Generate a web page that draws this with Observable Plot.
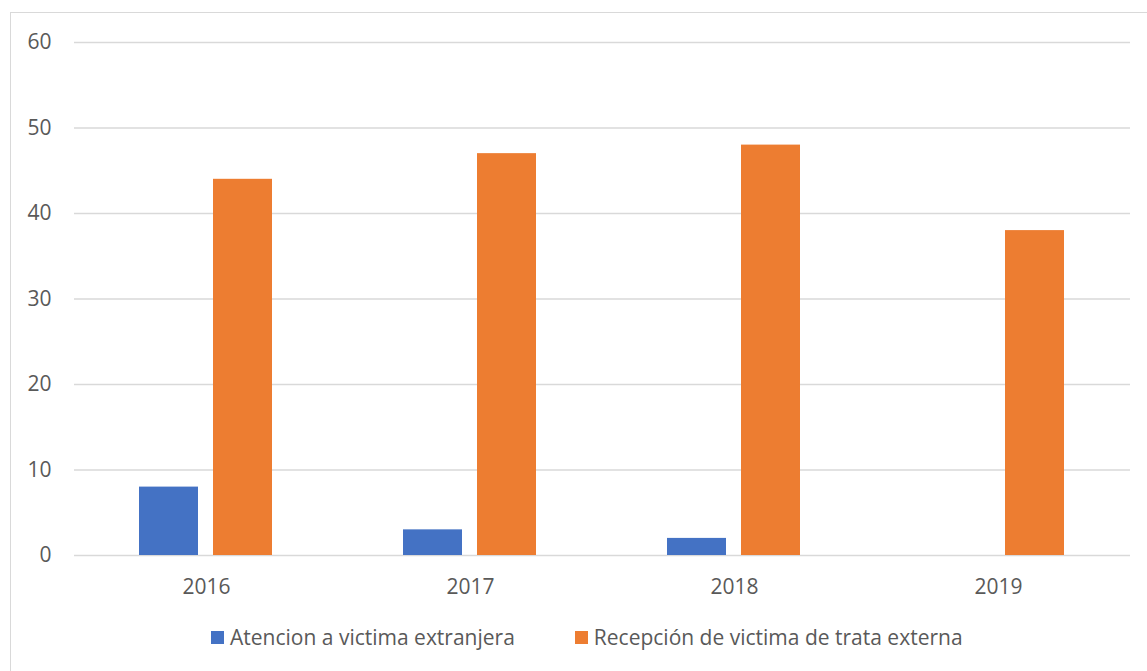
<!DOCTYPE html>
<html><head><meta charset="utf-8">
<script src="https://cdn.jsdelivr.net/npm/d3@7"></script>
<script src="https://cdn.jsdelivr.net/npm/@observablehq/plot@0.6"></script>
<style>
body{margin:0;background:#fff;font-family:"Open Sans",sans-serif;width:1147px;height:671px;overflow:hidden;position:relative}
#frame{position:absolute;left:10px;top:12px;width:1150px;height:680px;border:1.5px solid #d9d9d9;box-sizing:border-box}
#chart{position:absolute;left:0;top:0}
#legend{position:absolute;top:623px;left:211px;display:flex;align-items:center;font-size:21px;color:#595959;white-space:nowrap}
.item{display:flex;align-items:center}
.sw{width:13px;height:13px;margin-right:6px;display:inline-block}
</style></head>
<body>
<div id="frame"></div>
<div id="chart"></div>
<div id="legend"></div>
<script>
const years = ["2016", "2017", "2018", "2019"];
const series = ["Atencion a victima extranjera", "Recepción de victima de trata externa"];
const atencion = [8, 3, 2, 0];
const recepcion = [44, 47, 48, 38];
const colors = ["#4472C4", "#ED7D31"];
const yTicks = [0, 10, 20, 30, 40, 50, 60];

const data = years.flatMap((y, i) => [
  {year: y, serie: series[0], value: atencion[i]},
  {year: y, serie: series[1], value: recepcion[i]}
]);

const chart = Plot.plot({
  width: 1147,
  height: 600,
  marginLeft: 74,
  marginRight: 17,
  marginTop: 42,
  marginBottom: 45,
  style: {fontFamily: "Open Sans", fontSize: "21px", color: "#595959", background: "transparent"},
  fx: {domain: years, padding: 0, label: null, axis: "bottom", tickSize: 0, tickPadding: 24},
  x: {domain: series, axis: null, paddingInner: 0.2, paddingOuter: 0.874},
  y: {domain: [0, 60], ticks: yTicks, label: null, tickSize: 0, tickPadding: 23},
  color: {domain: series, range: colors},
  marks: [
    Plot.gridY(yTicks, {stroke: "#d9d9d9", strokeOpacity: 1, strokeWidth: 1.5}),
    Plot.barY(data, {fx: "year", x: "serie", y: "value", fill: "serie"})
  ]
});
document.getElementById("chart").appendChild(chart);

const legend = document.getElementById("legend");
series.forEach((s, i) => {
  const it = document.createElement("div");
  it.className = "item";
  if (i > 0) it.style.marginLeft = "60px";
  const sw = document.createElement("span");
  sw.className = "sw";
  sw.style.background = colors[i];
  const t = document.createElement("span");
  t.textContent = s;
  it.appendChild(sw); it.appendChild(t);
  legend.appendChild(it);
});
</script>
</body></html>
